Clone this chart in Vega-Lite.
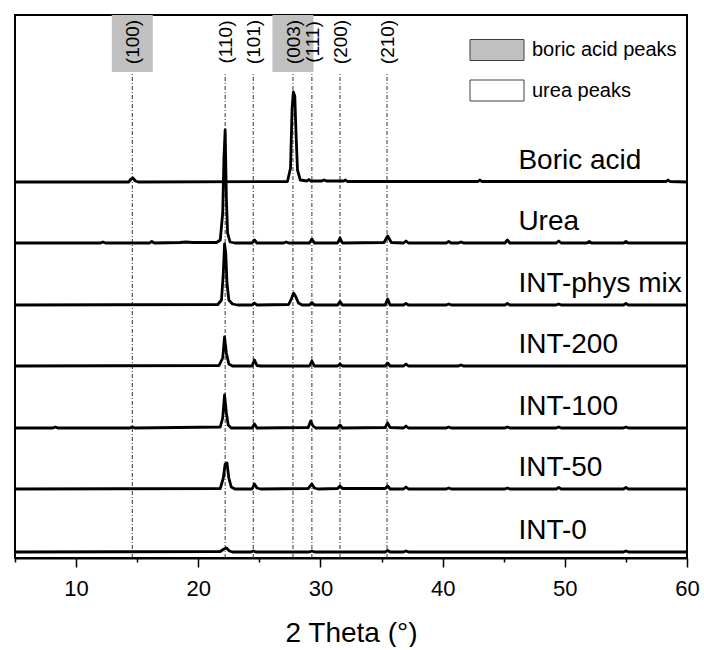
{
  "$schema": "https://vega.github.io/schema/vega-lite/v6.json",
  "width": 672,
  "height": 543,
  "padding": {"left": 13, "top": 15, "right": 10, "bottom": 0},
  "background": "white",
  "config": {
    "view": {"stroke": "black", "strokeWidth": 2},
    "font": "Liberation Sans"
  },
  "datasets": {
    "traces": [
      {"sample": "Boric acid", "two_theta": 5, "intensity": 376},
      {"sample": "Boric acid", "two_theta": 14.3, "intensity": 376},
      {"sample": "Boric acid", "two_theta": 14.5, "intensity": 379},
      {"sample": "Boric acid", "two_theta": 14.65, "intensity": 380},
      {"sample": "Boric acid", "two_theta": 14.85, "intensity": 377},
      {"sample": "Boric acid", "two_theta": 15.1, "intensity": 376},
      {"sample": "Boric acid", "two_theta": 27.3, "intensity": 376.5},
      {"sample": "Boric acid", "two_theta": 27.55, "intensity": 390},
      {"sample": "Boric acid", "two_theta": 27.68, "intensity": 450},
      {"sample": "Boric acid", "two_theta": 27.78, "intensity": 466},
      {"sample": "Boric acid", "two_theta": 27.9, "intensity": 462},
      {"sample": "Boric acid", "two_theta": 28.0, "intensity": 425},
      {"sample": "Boric acid", "two_theta": 28.12, "intensity": 388},
      {"sample": "Boric acid", "two_theta": 28.35, "intensity": 378},
      {"sample": "Boric acid", "two_theta": 28.9, "intensity": 377},
      {"sample": "Boric acid", "two_theta": 29.05, "intensity": 378.5},
      {"sample": "Boric acid", "two_theta": 29.2, "intensity": 377},
      {"sample": "Boric acid", "two_theta": 30.1, "intensity": 377},
      {"sample": "Boric acid", "two_theta": 30.3, "intensity": 378},
      {"sample": "Boric acid", "two_theta": 30.5, "intensity": 377},
      {"sample": "Boric acid", "two_theta": 31.9, "intensity": 377},
      {"sample": "Boric acid", "two_theta": 32.05, "intensity": 378},
      {"sample": "Boric acid", "two_theta": 32.2, "intensity": 376.5},
      {"sample": "Boric acid", "two_theta": 42.9, "intensity": 376.5},
      {"sample": "Boric acid", "two_theta": 43.05, "intensity": 378},
      {"sample": "Boric acid", "two_theta": 43.2, "intensity": 376.5},
      {"sample": "Boric acid", "two_theta": 58.3, "intensity": 376.5},
      {"sample": "Boric acid", "two_theta": 58.45, "intensity": 378},
      {"sample": "Boric acid", "two_theta": 58.6, "intensity": 376.5},
      {"sample": "Boric acid", "two_theta": 60, "intensity": 376},

      {"sample": "Urea", "two_theta": 5, "intensity": 315},
      {"sample": "Urea", "two_theta": 12.0, "intensity": 315},
      {"sample": "Urea", "two_theta": 12.2, "intensity": 316},
      {"sample": "Urea", "two_theta": 12.4, "intensity": 315},
      {"sample": "Urea", "two_theta": 16.0, "intensity": 315},
      {"sample": "Urea", "two_theta": 16.2, "intensity": 316.5},
      {"sample": "Urea", "two_theta": 16.4, "intensity": 315},
      {"sample": "Urea", "two_theta": 18.5, "intensity": 315.5},
      {"sample": "Urea", "two_theta": 19.0, "intensity": 316},
      {"sample": "Urea", "two_theta": 19.5, "intensity": 315.5},
      {"sample": "Urea", "two_theta": 21.5, "intensity": 315.5},
      {"sample": "Urea", "two_theta": 21.8, "intensity": 318},
      {"sample": "Urea", "two_theta": 22.0, "intensity": 345},
      {"sample": "Urea", "two_theta": 22.1, "intensity": 400},
      {"sample": "Urea", "two_theta": 22.2, "intensity": 428},
      {"sample": "Urea", "two_theta": 22.3, "intensity": 360},
      {"sample": "Urea", "two_theta": 22.4, "intensity": 325},
      {"sample": "Urea", "two_theta": 22.6, "intensity": 316},
      {"sample": "Urea", "two_theta": 23.0, "intensity": 315},
      {"sample": "Urea", "two_theta": 24.4, "intensity": 315},
      {"sample": "Urea", "two_theta": 24.6, "intensity": 318},
      {"sample": "Urea", "two_theta": 24.8, "intensity": 315},
      {"sample": "Urea", "two_theta": 27.0, "intensity": 315},
      {"sample": "Urea", "two_theta": 27.2, "intensity": 316},
      {"sample": "Urea", "two_theta": 27.4, "intensity": 315},
      {"sample": "Urea", "two_theta": 29.1, "intensity": 315},
      {"sample": "Urea", "two_theta": 29.3, "intensity": 319},
      {"sample": "Urea", "two_theta": 29.5, "intensity": 315},
      {"sample": "Urea", "two_theta": 31.4, "intensity": 315},
      {"sample": "Urea", "two_theta": 31.6, "intensity": 320},
      {"sample": "Urea", "two_theta": 31.8, "intensity": 315},
      {"sample": "Urea", "two_theta": 35.2, "intensity": 315.5},
      {"sample": "Urea", "two_theta": 35.5, "intensity": 322},
      {"sample": "Urea", "two_theta": 35.8, "intensity": 315.5},
      {"sample": "Urea", "two_theta": 36.8, "intensity": 315},
      {"sample": "Urea", "two_theta": 37.0, "intensity": 317},
      {"sample": "Urea", "two_theta": 37.2, "intensity": 315},
      {"sample": "Urea", "two_theta": 40.3, "intensity": 315},
      {"sample": "Urea", "two_theta": 40.5, "intensity": 316.5},
      {"sample": "Urea", "two_theta": 40.7, "intensity": 315},
      {"sample": "Urea", "two_theta": 41.3, "intensity": 315},
      {"sample": "Urea", "two_theta": 41.5, "intensity": 316},
      {"sample": "Urea", "two_theta": 41.7, "intensity": 315},
      {"sample": "Urea", "two_theta": 45.1, "intensity": 315},
      {"sample": "Urea", "two_theta": 45.3, "intensity": 318},
      {"sample": "Urea", "two_theta": 45.5, "intensity": 315},
      {"sample": "Urea", "two_theta": 49.3, "intensity": 315},
      {"sample": "Urea", "two_theta": 49.5, "intensity": 317},
      {"sample": "Urea", "two_theta": 49.7, "intensity": 315},
      {"sample": "Urea", "two_theta": 51.8, "intensity": 315},
      {"sample": "Urea", "two_theta": 52.0, "intensity": 316.5},
      {"sample": "Urea", "two_theta": 52.2, "intensity": 315},
      {"sample": "Urea", "two_theta": 54.8, "intensity": 315},
      {"sample": "Urea", "two_theta": 55.0, "intensity": 316.5},
      {"sample": "Urea", "two_theta": 55.2, "intensity": 315},
      {"sample": "Urea", "two_theta": 60, "intensity": 315},

      {"sample": "INT-phys mix", "two_theta": 5, "intensity": 253},
      {"sample": "INT-phys mix", "two_theta": 21.6, "intensity": 253.5},
      {"sample": "INT-phys mix", "two_theta": 21.9, "intensity": 258},
      {"sample": "INT-phys mix", "two_theta": 22.05, "intensity": 285},
      {"sample": "INT-phys mix", "two_theta": 22.15, "intensity": 314},
      {"sample": "INT-phys mix", "two_theta": 22.25, "intensity": 305},
      {"sample": "INT-phys mix", "two_theta": 22.35, "intensity": 275},
      {"sample": "INT-phys mix", "two_theta": 22.5, "intensity": 258},
      {"sample": "INT-phys mix", "two_theta": 22.8, "intensity": 254},
      {"sample": "INT-phys mix", "two_theta": 23.2, "intensity": 253},
      {"sample": "INT-phys mix", "two_theta": 24.4, "intensity": 253},
      {"sample": "INT-phys mix", "two_theta": 24.6, "intensity": 255},
      {"sample": "INT-phys mix", "two_theta": 24.8, "intensity": 253},
      {"sample": "INT-phys mix", "two_theta": 27.4, "intensity": 253.5},
      {"sample": "INT-phys mix", "two_theta": 27.65, "intensity": 260},
      {"sample": "INT-phys mix", "two_theta": 27.8, "intensity": 265},
      {"sample": "INT-phys mix", "two_theta": 27.95, "intensity": 262},
      {"sample": "INT-phys mix", "two_theta": 28.2, "intensity": 255},
      {"sample": "INT-phys mix", "two_theta": 28.5, "intensity": 253},
      {"sample": "INT-phys mix", "two_theta": 29.1, "intensity": 253},
      {"sample": "INT-phys mix", "two_theta": 29.3, "intensity": 255.5},
      {"sample": "INT-phys mix", "two_theta": 29.5, "intensity": 253},
      {"sample": "INT-phys mix", "two_theta": 31.4, "intensity": 253},
      {"sample": "INT-phys mix", "two_theta": 31.6, "intensity": 256.5},
      {"sample": "INT-phys mix", "two_theta": 31.8, "intensity": 253},
      {"sample": "INT-phys mix", "two_theta": 35.3, "intensity": 253},
      {"sample": "INT-phys mix", "two_theta": 35.5, "intensity": 259},
      {"sample": "INT-phys mix", "two_theta": 35.7, "intensity": 253},
      {"sample": "INT-phys mix", "two_theta": 36.8, "intensity": 253},
      {"sample": "INT-phys mix", "two_theta": 37.0, "intensity": 254.5},
      {"sample": "INT-phys mix", "two_theta": 37.2, "intensity": 253},
      {"sample": "INT-phys mix", "two_theta": 40.3, "intensity": 253},
      {"sample": "INT-phys mix", "two_theta": 40.5, "intensity": 254},
      {"sample": "INT-phys mix", "two_theta": 40.7, "intensity": 253},
      {"sample": "INT-phys mix", "two_theta": 45.1, "intensity": 253},
      {"sample": "INT-phys mix", "two_theta": 45.3, "intensity": 254.5},
      {"sample": "INT-phys mix", "two_theta": 45.5, "intensity": 253},
      {"sample": "INT-phys mix", "two_theta": 49.3, "intensity": 253},
      {"sample": "INT-phys mix", "two_theta": 49.5, "intensity": 254},
      {"sample": "INT-phys mix", "two_theta": 49.7, "intensity": 253},
      {"sample": "INT-phys mix", "two_theta": 54.8, "intensity": 253},
      {"sample": "INT-phys mix", "two_theta": 55.0, "intensity": 254.5},
      {"sample": "INT-phys mix", "two_theta": 55.2, "intensity": 253},
      {"sample": "INT-phys mix", "two_theta": 60, "intensity": 253},

      {"sample": "INT-200", "two_theta": 5, "intensity": 192},
      {"sample": "INT-200", "two_theta": 21.7, "intensity": 192.5},
      {"sample": "INT-200", "two_theta": 22.0, "intensity": 200},
      {"sample": "INT-200", "two_theta": 22.15, "intensity": 221},
      {"sample": "INT-200", "two_theta": 22.3, "intensity": 205},
      {"sample": "INT-200", "two_theta": 22.5, "intensity": 194},
      {"sample": "INT-200", "two_theta": 22.8, "intensity": 192},
      {"sample": "INT-200", "two_theta": 24.4, "intensity": 192},
      {"sample": "INT-200", "two_theta": 24.6, "intensity": 198},
      {"sample": "INT-200", "two_theta": 24.8, "intensity": 192.5},
      {"sample": "INT-200", "two_theta": 25.1, "intensity": 192},
      {"sample": "INT-200", "two_theta": 29.1, "intensity": 192},
      {"sample": "INT-200", "two_theta": 29.3, "intensity": 197},
      {"sample": "INT-200", "two_theta": 29.5, "intensity": 192},
      {"sample": "INT-200", "two_theta": 31.4, "intensity": 192},
      {"sample": "INT-200", "two_theta": 31.6, "intensity": 194},
      {"sample": "INT-200", "two_theta": 31.8, "intensity": 192},
      {"sample": "INT-200", "two_theta": 35.3, "intensity": 192},
      {"sample": "INT-200", "two_theta": 35.5, "intensity": 195},
      {"sample": "INT-200", "two_theta": 35.7, "intensity": 192},
      {"sample": "INT-200", "two_theta": 36.8, "intensity": 192},
      {"sample": "INT-200", "two_theta": 37.0, "intensity": 194},
      {"sample": "INT-200", "two_theta": 37.2, "intensity": 192},
      {"sample": "INT-200", "two_theta": 41.3, "intensity": 192},
      {"sample": "INT-200", "two_theta": 41.5, "intensity": 193},
      {"sample": "INT-200", "two_theta": 41.7, "intensity": 192},
      {"sample": "INT-200", "two_theta": 60, "intensity": 192},

      {"sample": "INT-100", "two_theta": 5, "intensity": 130},
      {"sample": "INT-100", "two_theta": 8.1, "intensity": 130},
      {"sample": "INT-100", "two_theta": 8.3, "intensity": 131},
      {"sample": "INT-100", "two_theta": 8.5, "intensity": 130},
      {"sample": "INT-100", "two_theta": 14.4, "intensity": 130},
      {"sample": "INT-100", "two_theta": 14.6, "intensity": 131},
      {"sample": "INT-100", "two_theta": 14.8, "intensity": 130},
      {"sample": "INT-100", "two_theta": 21.8, "intensity": 131},
      {"sample": "INT-100", "two_theta": 22.0, "intensity": 140},
      {"sample": "INT-100", "two_theta": 22.15, "intensity": 163},
      {"sample": "INT-100", "two_theta": 22.3, "intensity": 145},
      {"sample": "INT-100", "two_theta": 22.45, "intensity": 133},
      {"sample": "INT-100", "two_theta": 22.7, "intensity": 130},
      {"sample": "INT-100", "two_theta": 24.4, "intensity": 130},
      {"sample": "INT-100", "two_theta": 24.6, "intensity": 134},
      {"sample": "INT-100", "two_theta": 24.8, "intensity": 130},
      {"sample": "INT-100", "two_theta": 29.0, "intensity": 130.5},
      {"sample": "INT-100", "two_theta": 29.2, "intensity": 137},
      {"sample": "INT-100", "two_theta": 29.4, "intensity": 132},
      {"sample": "INT-100", "two_theta": 29.6, "intensity": 130},
      {"sample": "INT-100", "two_theta": 31.4, "intensity": 130},
      {"sample": "INT-100", "two_theta": 31.6, "intensity": 133},
      {"sample": "INT-100", "two_theta": 31.8, "intensity": 130},
      {"sample": "INT-100", "two_theta": 35.3, "intensity": 130.5},
      {"sample": "INT-100", "two_theta": 35.5, "intensity": 135},
      {"sample": "INT-100", "two_theta": 35.7, "intensity": 130.5},
      {"sample": "INT-100", "two_theta": 36.8, "intensity": 130},
      {"sample": "INT-100", "two_theta": 37.0, "intensity": 132},
      {"sample": "INT-100", "two_theta": 37.2, "intensity": 130},
      {"sample": "INT-100", "two_theta": 40.3, "intensity": 130},
      {"sample": "INT-100", "two_theta": 40.5, "intensity": 131},
      {"sample": "INT-100", "two_theta": 40.7, "intensity": 130},
      {"sample": "INT-100", "two_theta": 45.1, "intensity": 130},
      {"sample": "INT-100", "two_theta": 45.3, "intensity": 131},
      {"sample": "INT-100", "two_theta": 45.5, "intensity": 130},
      {"sample": "INT-100", "two_theta": 49.3, "intensity": 130},
      {"sample": "INT-100", "two_theta": 49.5, "intensity": 131},
      {"sample": "INT-100", "two_theta": 49.7, "intensity": 130},
      {"sample": "INT-100", "two_theta": 54.8, "intensity": 130},
      {"sample": "INT-100", "two_theta": 55.0, "intensity": 131},
      {"sample": "INT-100", "two_theta": 55.2, "intensity": 130},
      {"sample": "INT-100", "two_theta": 60, "intensity": 130},

      {"sample": "INT-50", "two_theta": 5, "intensity": 69},
      {"sample": "INT-50", "two_theta": 21.8, "intensity": 69.5},
      {"sample": "INT-50", "two_theta": 22.05, "intensity": 80},
      {"sample": "INT-50", "two_theta": 22.2, "intensity": 94},
      {"sample": "INT-50", "two_theta": 22.35, "intensity": 95},
      {"sample": "INT-50", "two_theta": 22.5, "intensity": 80},
      {"sample": "INT-50", "two_theta": 22.7, "intensity": 71},
      {"sample": "INT-50", "two_theta": 23.0, "intensity": 69},
      {"sample": "INT-50", "two_theta": 24.4, "intensity": 69},
      {"sample": "INT-50", "two_theta": 24.6, "intensity": 74},
      {"sample": "INT-50", "two_theta": 24.8, "intensity": 70},
      {"sample": "INT-50", "two_theta": 25.1, "intensity": 69},
      {"sample": "INT-50", "two_theta": 29.0, "intensity": 69.5},
      {"sample": "INT-50", "two_theta": 29.3, "intensity": 74},
      {"sample": "INT-50", "two_theta": 29.5, "intensity": 70},
      {"sample": "INT-50", "two_theta": 29.8, "intensity": 69},
      {"sample": "INT-50", "two_theta": 31.4, "intensity": 69.5},
      {"sample": "INT-50", "two_theta": 31.6, "intensity": 72},
      {"sample": "INT-50", "two_theta": 31.8, "intensity": 69.5},
      {"sample": "INT-50", "two_theta": 35.3, "intensity": 69.5},
      {"sample": "INT-50", "two_theta": 35.5, "intensity": 72},
      {"sample": "INT-50", "two_theta": 35.7, "intensity": 69},
      {"sample": "INT-50", "two_theta": 36.8, "intensity": 69},
      {"sample": "INT-50", "two_theta": 37.0, "intensity": 71},
      {"sample": "INT-50", "two_theta": 37.2, "intensity": 69},
      {"sample": "INT-50", "two_theta": 40.3, "intensity": 69},
      {"sample": "INT-50", "two_theta": 40.5, "intensity": 70},
      {"sample": "INT-50", "two_theta": 40.7, "intensity": 69},
      {"sample": "INT-50", "two_theta": 45.1, "intensity": 69},
      {"sample": "INT-50", "two_theta": 45.3, "intensity": 70},
      {"sample": "INT-50", "two_theta": 45.5, "intensity": 69},
      {"sample": "INT-50", "two_theta": 49.3, "intensity": 69},
      {"sample": "INT-50", "two_theta": 49.5, "intensity": 70.5},
      {"sample": "INT-50", "two_theta": 49.7, "intensity": 69},
      {"sample": "INT-50", "two_theta": 54.8, "intensity": 69},
      {"sample": "INT-50", "two_theta": 55.0, "intensity": 70.5},
      {"sample": "INT-50", "two_theta": 55.2, "intensity": 69},
      {"sample": "INT-50", "two_theta": 60, "intensity": 69},

      {"sample": "INT-0", "two_theta": 5, "intensity": 6},
      {"sample": "INT-0", "two_theta": 21.8, "intensity": 6.5},
      {"sample": "INT-0", "two_theta": 22.1, "intensity": 9},
      {"sample": "INT-0", "two_theta": 22.3, "intensity": 10},
      {"sample": "INT-0", "two_theta": 22.55, "intensity": 7},
      {"sample": "INT-0", "two_theta": 22.8, "intensity": 6},
      {"sample": "INT-0", "two_theta": 24.3, "intensity": 6},
      {"sample": "INT-0", "two_theta": 24.5, "intensity": 7},
      {"sample": "INT-0", "two_theta": 24.7, "intensity": 6},
      {"sample": "INT-0", "two_theta": 29.1, "intensity": 6},
      {"sample": "INT-0", "two_theta": 29.3, "intensity": 7},
      {"sample": "INT-0", "two_theta": 29.5, "intensity": 6},
      {"sample": "INT-0", "two_theta": 35.3, "intensity": 6},
      {"sample": "INT-0", "two_theta": 35.5, "intensity": 7.5},
      {"sample": "INT-0", "two_theta": 35.7, "intensity": 6},
      {"sample": "INT-0", "two_theta": 36.8, "intensity": 6},
      {"sample": "INT-0", "two_theta": 37.0, "intensity": 7},
      {"sample": "INT-0", "two_theta": 37.2, "intensity": 6},
      {"sample": "INT-0", "two_theta": 54.8, "intensity": 6},
      {"sample": "INT-0", "two_theta": 55.0, "intensity": 7},
      {"sample": "INT-0", "two_theta": 55.2, "intensity": 6},
      {"sample": "INT-0", "two_theta": 60, "intensity": 6}
    ],
    "samples": [
      {"sample": "Boric acid", "offset": 376},
      {"sample": "Urea", "offset": 315},
      {"sample": "INT-phys mix", "offset": 253},
      {"sample": "INT-200", "offset": 192},
      {"sample": "INT-100", "offset": 130},
      {"sample": "INT-50", "offset": 69},
      {"sample": "INT-0", "offset": 6}
    ],
    "peaks": [
      {"hkl": "(100)", "two_theta": 14.6, "phase": "boric acid peaks"},
      {"hkl": "(110)", "two_theta": 22.2, "phase": "urea peaks"},
      {"hkl": "(101)", "two_theta": 24.5, "phase": "urea peaks"},
      {"hkl": "(003)", "two_theta": 27.75, "phase": "boric acid peaks"},
      {"hkl": "(111)", "two_theta": 29.3, "phase": "urea peaks"},
      {"hkl": "(200)", "two_theta": 31.6, "phase": "urea peaks"},
      {"hkl": "(210)", "two_theta": 35.45, "phase": "urea peaks"}
    ]
  },
  "layer": [
    {
      "data": {"name": "peaks"},
      "transform": [{"filter": "datum.phase === 'boric acid peaks'"}],
      "mark": {"type": "rect", "width": 41},
      "encoding": {
        "x": {
          "field": "two_theta",
          "type": "quantitative",
          "scale": {"domain": [5, 60], "nice": false, "zero": false},
          "axis": {
            "title": "2 Theta (°)",
            "values": [5, 10, 15, 20, 25, 30, 35, 40, 45, 50, 55, 60],
            "labelExpr": "datum.value % 10 === 0 ? datum.label : ''",
            "tickSize": {"condition": {"test": "datum.value % 10 === 0", "value": 9}, "value": 4},
            "tickWidth": 1.5,
            "tickColor": "black",
            "domainColor": "black",
            "domainWidth": 2,
            "grid": false,
            "labelFont": "Liberation Sans",
            "labelFontSize": 22,
            "labelColor": "black",
            "labelPadding": 11,
            "labelOverlap": false,
            "labelFlush": false,
            "titleFont": "Liberation Sans",
            "titleFontSize": 28,
            "titleFontWeight": "normal",
            "titleColor": "black",
            "titlePadding": 20
          }
        },
        "y": {"datum": 543, "type": "quantitative", "scale": {"domain": [0, 543], "nice": false, "zero": false}, "axis": null},
        "y2": {"datum": 486},
        "fill": {
          "field": "phase",
          "type": "nominal",
          "scale": {"domain": ["boric acid peaks", "urea peaks"], "range": ["#c0c0c0", "#ffffff"]},
          "legend": {
            "orient": "none",
            "legendX": 471,
            "legendY": 24,
            "title": null,
            "symbolType": "M-2.57,-1H2.57V1H-2.57Z",
            "symbolSize": 441,
            "symbolStrokeColor": "#404040",
            "symbolStrokeWidth": 1,
            "symbolOpacity": 1,
            "labelFont": "Liberation Sans",
            "labelFontSize": 20,
            "labelColor": "black",
            "labelOffset": 24,
            "rowPadding": 14.5,
            "padding": 0
          }
        }
      }
    },
    {
      "data": {"name": "peaks"},
      "mark": {"type": "rule", "color": "#333333", "strokeWidth": 1, "strokeDash": [4, 2, 1, 2]},
      "encoding": {
        "x": {"field": "two_theta", "type": "quantitative"},
        "y": {"datum": 0, "type": "quantitative"},
        "y2": {"datum": 486}
      }
    },
    {
      "data": {"name": "peaks"},
      "mark": {"type": "text", "angle": 270, "align": "center", "baseline": "middle", "dy": 1, "font": "Liberation Sans", "fontSize": 19, "color": "black"},
      "encoding": {
        "x": {"field": "two_theta", "type": "quantitative"},
        "y": {"datum": 516, "type": "quantitative"},
        "text": {"field": "hkl"}
      }
    },
    {
      "data": {"name": "traces"},
      "mark": {"type": "line", "color": "black", "strokeWidth": 2.8, "strokeJoin": "round"},
      "encoding": {
        "x": {"field": "two_theta", "type": "quantitative"},
        "y": {"field": "intensity", "type": "quantitative"},
        "detail": {"field": "sample"},
        "order": {"field": "two_theta"}
      }
    },
    {
      "data": {"name": "samples"},
      "mark": {"type": "text", "align": "left", "baseline": "alphabetic", "dy": -13, "font": "Liberation Sans", "fontSize": 28, "color": "black"},
      "encoding": {
        "x": {"datum": 46.2, "type": "quantitative"},
        "y": {"field": "offset", "type": "quantitative"},
        "text": {"field": "sample"}
      }
    }
  ]
}
